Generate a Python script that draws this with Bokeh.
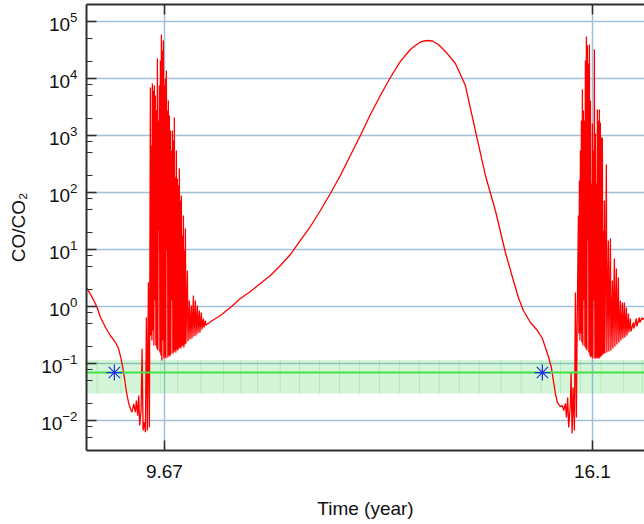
from bokeh.plotting import figure
from bokeh.models import FixedTicker, LinearAxis, Range1d
from bokeh.embed import file_html
from bokeh.resources import INLINE

# ---------------- data ----------------
x_ticks = [9.67, 16.1]
x_tick_labels = ["9.67", "16.1"]
y_decades = [1e-2, 1e-1, 1, 10, 100, 1e3, 1e4, 1e5]
y_minor = [0.005, 0.008, 0.02, 0.05, 0.08, 0.2, 0.5, 0.8, 2, 5, 8, 20, 50, 80,
           200, 500, 800, 2000, 5000, 8000, 20000, 50000]

# (time in years, CO/CO2)
descent_1 = [(8.500, 2.15), (8.584, 1.46), (8.659, 0.972), (8.709, 0.649), (8.784, 0.433),
             (8.859, 0.31), (8.934, 0.236), (8.983, 0.181), (9.020, 0.121), (9.044, 0.0861),
             (9.069, 0.0568), (9.099, 0.0323), (9.134, 0.0199), (9.170, 0.015)]

noise_1 = [(9.185, 0.014), (9.209, 0.0196), (9.234, 0.014), (9.249, 0.0224), (9.269, 0.0122),
           (9.284, 0.0275), (9.299, 0.00817), (9.320, 0.015), (9.335, 0.181), (9.350, 0.00668),
           (9.370, 0.00934), (9.385, 0.00623), (9.400, 0.649), (9.415, 0.00668), (9.430, 2.67),
           (9.445, 0.00762)]

burst_1 = [(9.460, 6950), (9.4675, 0.31), (9.475, 668), (9.4825, 0.253),
           (9.490, 8170), (9.4975, 0.379), (9.505, 6150), (9.5125, 0.207),
           (9.520, 7530), (9.5275, 1.27), (9.535, 5030), (9.5425, 0.207),
           (9.550, 2750), (9.5575, 0.183), (9.565, 22400), (9.5725, 0.169),
           (9.580, 1830), (9.5875, 21.5), (9.595, 7530), (9.6025, 0.156),
           (9.610, 20700), (9.6175, 0.138), (9.625, 59100), (9.6325, 0.113),
           (9.640, 31000), (9.6475, 0.253), (9.655, 46400), (9.6625, 0.122),
           (9.670, 7530), (9.6775, 0.133), (9.685, 10000), (9.6925, 0.122),
           (9.700, 13800), (9.7075, 9.6), (9.715, 2750), (9.7225, 0.127),
           (9.730, 4110), (9.7375, 0.138), (9.745, 2240), (9.7525, 0.133),
           (9.760, 1220), (9.7675, 0.144), (9.775, 546), (9.7825, 1.27),
           (9.790, 1220), (9.7975, 0.15), (9.805, 817), (9.8125, 0.156),
           (9.820, 2070), (9.8275, 0.169), (9.835, 183), (9.8425, 0.156),
           (9.850, 546), (9.8575, 0.176), (9.865, 176), (9.8725, 0.169),
           (9.880, 133), (9.8875, 0.183), (9.895, 264), (9.9025, 0.191),
           (9.910, 72.4), (9.9175, 0.183), (9.925, 88.5), (9.9325, 0.199),
           (9.941, 17.6), (9.948, 0.207), (9.956, 39.4), (9.963, 0.191),
           (9.971, 9.6), (9.978, 0.215), (9.986, 23.3), (9.993, 0.224),
           (10.016, 4.28), (10.024, 0.243), (10.046, 1.27), (10.054, 0.264),
           (10.076, 1.04), (10.084, 0.275), (10.106, 1.56), (10.114, 0.298),
           (10.136, 1.27), (10.144, 0.31), (10.166, 1.04), (10.174, 0.336),
           (10.196, 0.851), (10.204, 0.35), (10.226, 0.785), (10.234, 0.395),
           (10.256, 0.616), (10.264, 0.428), (10.286, 0.568), (10.294, 0.464)]

middle = [(10.301, 0.48), (10.391, 0.57), (10.511, 0.695), (10.662, 0.96), (10.812, 1.38),
          (10.962, 1.83), (11.112, 2.53), (11.263, 3.5), (11.413, 5.24), (11.563, 8.17),
          (11.713, 14.4), (11.864, 25.3), (12.014, 48.3), (12.164, 96), (12.314, 199),
          (12.464, 446), (12.615, 1000), (12.765, 2340), (12.915, 5030), (13.065, 10400),
          (13.216, 19900), (13.366, 32300), (13.441, 37900), (13.516, 43700), (13.576, 45500),
          (13.636, 46400), (13.696, 45500), (13.787, 39500), (13.892, 29800), (14.042, 18300),
          (14.192, 7530), (14.342, 1220), (14.493, 199), (14.643, 48.3), (14.793, 8.86),
          (14.913, 2.86), (14.988, 1.44), (15.063, 0.851), (15.169, 0.524), (15.274, 0.379),
          (15.349, 0.275), (15.394, 0.191), (15.439, 0.133), (15.484, 0.0851), (15.514, 0.0503),
          (15.544, 0.0298), (15.574, 0.0207), (15.619, 0.0176)]

noise_2 = [(15.650, 0.0183), (15.669, 0.015), (15.695, 0.0199), (15.710, 0.0113), (15.729, 0.0253),
           (15.744, 0.00753), (15.770, 0.0199), (15.780, 0.0695), (15.795, 0.00591), (15.810, 0.0379),
           (15.830, 0.00668), (15.845, 1.76), (15.860, 0.0113), (15.870, 0.336)]

burst_2 = [(15.890, 39.4), (15.8975, 0.336), (15.905, 162), (15.9125, 0.253),
           (15.920, 546), (15.9275, 0.336), (15.935, 1830), (15.9425, 0.234),
           (15.950, 6410), (15.9575, 0.207), (15.965, 2750), (15.9725, 1.27),
           (15.980, 1830), (15.9875, 0.199), (15.995, 20700), (16.0025, 0.183),
           (16.010, 54600), (16.0175, 0.169), (16.025, 37900), (16.0325, 14.4),
           (16.040, 18300), (16.0475, 0.156), (16.055, 39500), (16.0625, 0.138),
           (16.070, 4110), (16.0775, 0.127), (16.085, 144), (16.0925, 0.133),
           (16.100, 1630), (16.1075, 0.122), (16.115, 546), (16.1225, 1.27),
           (16.130, 32300), (16.1375, 0.122), (16.145, 1080), (16.1525, 0.122),
           (16.160, 144), (16.1675, 0.127), (16.175, 2860), (16.1825, 0.122),
           (16.190, 1830), (16.1975, 0.122), (16.205, 2860), (16.2125, 0.127),
           (16.220, 1690), (16.2275, 0.133), (16.235, 923), (16.2425, 0.138),
           (16.250, 923), (16.2575, 0.144), (16.265, 21.5), (16.2725, 0.15),
           (16.280, 72.4), (16.2875, 0.15), (16.310, 310), (16.3175, 0.156),
           (16.340, 14.4), (16.3475, 0.162), (16.371, 15.6), (16.378, 0.169),
           (16.401, 2.86), (16.408, 0.183), (16.431, 6.95), (16.438, 0.199),
           (16.461, 4.64), (16.468, 0.215), (16.491, 3.23), (16.498, 0.234),
           (16.521, 1.27), (16.528, 0.253), (16.551, 1.17), (16.558, 0.275),
           (16.581, 1.17), (16.588, 0.286), (16.611, 0.96), (16.618, 0.31),
           (16.641, 0.754), (16.648, 0.35), (16.671, 0.616), (16.678, 0.364),
           (16.716, 0.524), (16.723, 0.411), (16.761, 0.616), (16.768, 0.446),
           (16.806, 0.641), (16.813, 0.524), (16.851, 0.641), (16.858, 0.591),
           (16.885, 0.63)]

# observed value with its uncertainty band
obs_ratio = 0.0695
obs_low = 0.0298
obs_high = 0.115
band_time = [8.500, 8.659, 9.019, 9.320, 9.610, 9.870, 10.220, 10.560, 10.820, 11.070,
             11.410, 11.700, 12.000, 12.300, 12.600, 12.900, 13.200, 13.500, 13.800,
             14.100, 14.400, 14.730, 15.030, 15.330, 15.620, 15.920, 16.230, 16.570, 16.850,
             16.900]
marker_time = [8.919, 15.349]
marker_ratio = [0.0695, 0.0695]

curve = descent_1 + noise_1 + burst_1 + middle + noise_2 + burst_2
time = [c[0] for c in curve]
ratio = [c[1] for c in curve]

# ---------------- figure ----------------
FONT = "Liberation Sans"
AXIS_COLOR = "#2e2e2e"
GRID_COLOR = "#a3bfd7"

p = figure(width=644, height=524, output_backend="svg", toolbar_location=None,
           y_axis_type="log",
           x_range=Range1d(8.5, 16.883), y_range=Range1d(0.00298, 1.986e5),
           min_border_left=86, min_border_right=0, min_border_top=4, min_border_bottom=74)
p.outline_line_color = None
p.background_fill_color = "white"
p.border_fill_color = "white"

# grid
p.xgrid.ticker = FixedTicker(ticks=x_ticks)
p.ygrid.ticker = FixedTicker(ticks=y_decades)
for g in (p.xgrid, p.ygrid):
    g.grid_line_color = GRID_COLOR
    g.grid_line_width = 1.5

# left axis
ya = p.yaxis[0]
ya.ticker = FixedTicker(ticks=y_decades, minor_ticks=y_minor)
ya.axis_label = "CO/CO\u2082"
ya.axis_label_text_font = FONT
ya.axis_label_text_font_size = "19px"
ya.axis_label_text_font_style = "normal"
ya.axis_label_text_color = "#111111"
ya.axis_label_standoff = 9
ya.major_label_text_font = FONT
ya.major_label_text_font_size = "19px"
ya.major_label_text_color = "#111111"
ya.major_label_standoff = 9

# bottom axis
xa = p.xaxis[0]
xa.ticker = FixedTicker(ticks=x_ticks)
xa.major_label_overrides = {t: lab for t, lab in zip(x_ticks, x_tick_labels)}
xa.axis_label = "Time (year)"
xa.axis_label_text_font = FONT
xa.axis_label_text_font_size = "19px"
xa.axis_label_text_font_style = "normal"
xa.axis_label_text_color = "#111111"
xa.axis_label_text_line_height = 1.0
xa.axis_label_standoff = 17
xa.major_label_text_font = FONT
xa.major_label_text_font_size = "19px"
xa.major_label_text_color = "#111111"
xa.major_label_text_line_height = 1.0
xa.major_label_standoff = 14

# top axis (ticks only, no labels)
top = LinearAxis(ticker=FixedTicker(ticks=x_ticks), major_label_text_font_size="1px",
                 major_label_text_color=None, major_label_standoff=0)
p.add_layout(top, "above")

for ax in (ya, xa, top):
    ax.axis_line_color = AXIS_COLOR
    ax.axis_line_width = 2
    ax.major_tick_line_color = AXIS_COLOR
    ax.major_tick_line_width = 1.5
    ax.minor_tick_line_color = AXIS_COLOR
    ax.minor_tick_line_width = 1.2
    ax.major_tick_in = 10
    ax.major_tick_out = 0
    ax.minor_tick_in = 6
    ax.minor_tick_out = 0

# uncertainty band
n = len(band_time)
p.varea(x=band_time, y1=[obs_low] * n, y2=[obs_high] * n,
        fill_color="#2ecc40", fill_alpha=0.2)
inner = band_time[1:-1]
p.segment(x0=inner, y0=[obs_low] * len(inner), x1=inner, y1=[obs_high] * len(inner),
          line_color="#2ecc40", line_alpha=0.22, line_width=1)

# model curve
p.line(time, ratio, line_color="#ff0000", line_width=1.3)

# observed value line
p.line(band_time, [obs_ratio] * n, line_color="#44e044", line_width=2)

# markers
p.scatter(marker_time, marker_ratio, marker="asterisk", size=16,
          line_color="#1f2fe6", line_width=1.2)

open("out.html", "w").write(file_html(p, INLINE))
